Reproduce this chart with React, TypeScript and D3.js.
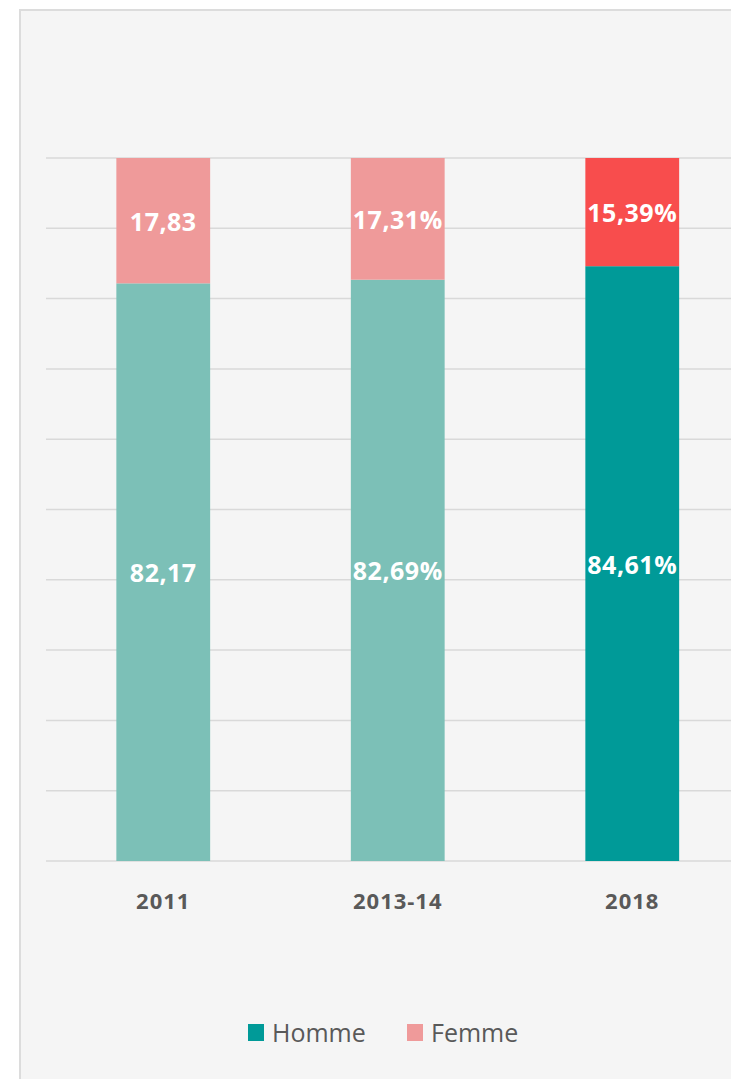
import React from "react";
import * as d3 from "d3";

const categories = ["2011", "2013-14", "2018"];
const hommeValues = [82.17, 82.69, 84.61];
const femmeValues = [17.83, 17.31, 15.39];
const hommeLabels = ["82,17", "82,69%", "84,61%"];
const femmeLabels = ["17,83", "17,31%", "15,39%"];
const hommeColors = ["#7cc0b7", "#7cc0b7", "#009a98"];
const femmeColors = ["#ef9a9a", "#ef9a9a", "#f84d4d"];
const yTicks = [0, 10, 20, 30, 40, 50, 60, 70, 80, 90, 100];
const legendItems = [
  { name: "Homme", color: "#009a98" },
  { name: "Femme", color: "#ef9a9a" },
];

const W = 731;
const H = 1079;
const FONT = "'Open Sans', sans-serif";

export default function App() {
  const x = d3.scaleBand().domain(categories).range([46, 749.5]).paddingInner(0.6).paddingOuter(0.3);
  const y = d3.scaleLinear().domain([0, 100]).range([861, 158]);
  const bw = x.bandwidth();

  return (
    <svg width={W} height={H} style={{ position: "absolute", left: 0, top: 0 }}>
      <rect x={20} y={10} width={W + 20} height={H + 20} fill="#f5f5f5" stroke="#dcdcdc" strokeWidth={2} />
      {yTicks.map((t) => (
        <line key={t} x1={46} x2={W} y1={y(t)} y2={y(t)} stroke="#d9d9d9" strokeWidth={1.5} />
      ))}
      {categories.map((c, i) => {
        const x0 = x(c)!;
        const hTop = y(hommeValues[i]);
        const fTop = y(hommeValues[i] + femmeValues[i]);
        return (
          <g key={c}>
            <rect x={x0} y={hTop} width={bw} height={y(0) - hTop} fill={hommeColors[i]} />
            <rect x={x0} y={fTop} width={bw} height={hTop - fTop} fill={femmeColors[i]} />
            <text x={x0 + bw / 2} y={(hTop + y(0)) / 2} textAnchor="middle" dominantBaseline="central"
              fill="#fff" fontFamily={FONT} fontWeight={700} fontSize={25} letterSpacing={0.5}>{hommeLabels[i]}</text>
            <text x={x0 + bw / 2} y={(hTop + fTop) / 2} textAnchor="middle" dominantBaseline="central"
              fill="#fff" fontFamily={FONT} fontWeight={700} fontSize={25} letterSpacing={0.5}>{femmeLabels[i]}</text>
            <text x={x0 + bw / 2} y={900} textAnchor="middle" dominantBaseline="central"
              fill="#595959" fontFamily={FONT} fontWeight={700} fontSize={22} letterSpacing={1}>{c}</text>
          </g>
        );
      })}
      {legendItems.map((l, i) => {
        const lx = i === 0 ? 248 : 407;
        return (
          <g key={l.name}>
            <rect x={lx} y={1024} width={16} height={17} fill={l.color} />
            <text x={lx + 24} y={1032} dominantBaseline="central" fill="#595959" fontFamily={FONT} fontSize={25}>{l.name}</text>
          </g>
        );
      })}
    </svg>
  );
}
